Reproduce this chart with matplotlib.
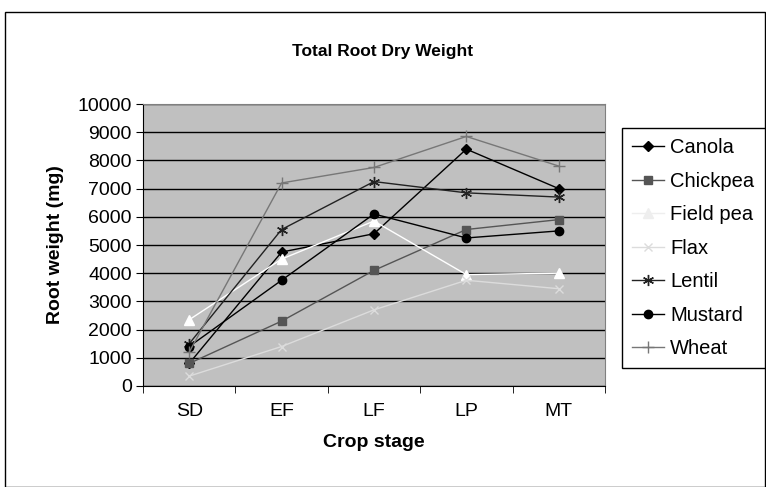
import matplotlib
matplotlib.use("Agg")
import matplotlib.pyplot as plt
from matplotlib.patches import Rectangle

plt.rcParams['font.family'] = ['Liberation Sans', 'DejaVu Sans']

stages = ["SD", "EF", "LF", "LP", "MT"]
canola = [800, 4750, 5400, 8400, 7000]
chickpea = [800, 2300, 4100, 5550, 5900]
field_pea = [2350, 4500, 5850, 3950, 4000]
flax = [350, 1400, 2700, 3750, 3450]
lentil = [1500, 5550, 7250, 6850, 6700]
mustard = [1400, 3750, 6100, 5250, 5500]
wheat = [1200, 7200, 7750, 8850, 7800]

series = [
    ("Canola", canola, "black", "D", "black", 5),
    ("Chickpea", chickpea, "#555555", "s", "#555555", 5.5),
    ("Field pea", field_pea, "white", "^", "white", 7),
    ("Flax", flax, "#dcdcdc", "x", "#dcdcdc", 6),
    ("Lentil", lentil, "#222222", (6, 2, 0), "#222222", 8),
    ("Mustard", mustard, "black", "o", "black", 6),
    ("Wheat", wheat, "#777777", "+", "#777777", 8),
]

fig = plt.figure(figsize=(7.66, 4.87), dpi=100)
fig.patches.append(Rectangle((0.007, 0.0), 0.992, 0.976, transform=fig.transFigure,
                             fill=False, edgecolor="black", linewidth=1.0))
ax = fig.add_axes([0.1867, 0.2074, 0.603, 0.579])
ax.set_facecolor("#c0c0c0")
x = list(range(len(stages)))
for name, vals, col, mk, mcol, ms in series:
    ax.plot(x, vals, color=col, linewidth=1.0, marker=mk, markersize=ms,
            markerfacecolor=mcol, markeredgecolor=mcol, markeredgewidth=1.0, label=name)

ax.set_xlim(-0.5, 4.5)
ax.set_ylim(0, 10000)
ax.set_yticks(range(0, 10001, 1000))
ax.yaxis.grid(True, color="black", linewidth=1.0)
ax.set_axisbelow(True)
ax.set_xticks(x)
ax.set_xticklabels(stages)
ax.set_xticks([i + 0.5 for i in range(-1, 5)], minor=True)
ax.tick_params(axis="x", which="major", length=0, labelsize=14, pad=12)
ax.tick_params(axis="x", which="minor", length=5, direction="out")
ax.tick_params(axis="y", labelsize=14, length=5, direction="out", pad=3)
for s in ["top", "right"]:
    ax.spines[s].set_color("#808080")
ax.spines["left"].set_color("black")
ax.spines["bottom"].set_color("black")

ax.set_xlabel("Crop stage", fontsize=14, fontweight="bold", labelpad=10)
ax.set_ylabel("Root weight (mg)", fontsize=14, fontweight="bold", labelpad=10)
fig.text(0.5, 0.895, "Total Root Dry Weight", ha="center", va="center",
         fontsize=12.5, fontweight="bold")

leg = fig.legend(loc="upper left", bbox_to_anchor=(0.812, 0.737), fontsize=14.5,
                 frameon=True, fancybox=False, edgecolor="black", framealpha=1,
                 handlelength=1.6, handletextpad=0.3, borderpad=0.5, labelspacing=0.72,
                 borderaxespad=0.0)
leg.get_frame().set_linewidth(1.0)
leg.legend_handles[2].set_color("#eeeeee")
leg.legend_handles[2].set_markerfacecolor("#eeeeee")
leg.legend_handles[2].set_markeredgecolor("#eeeeee")

fig.savefig("out.png", dpi=100)
